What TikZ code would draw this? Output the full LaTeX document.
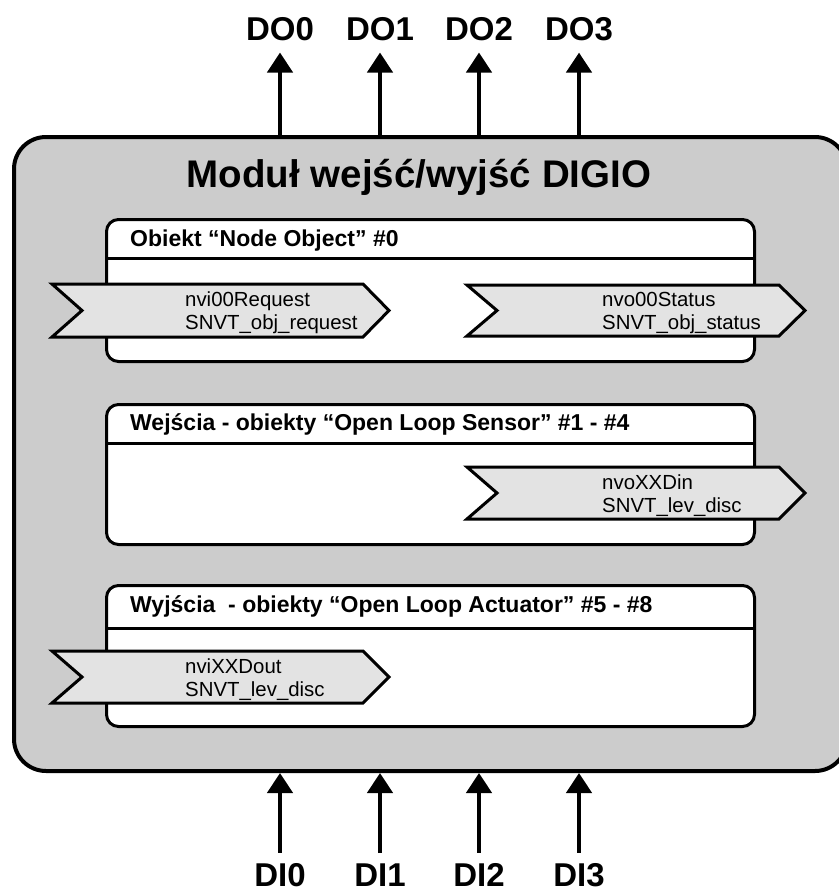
\documentclass[tikz,border=0pt]{standalone}
\usepackage{fontspec}
\setmainfont{Liberation Sans}
\usetikzlibrary{arrows.meta}

\definecolor{modulegray}{HTML}{CCCCCC}
\definecolor{chevrongray}{HTML}{E3E3E3}

\begin{document}
\begin{tikzpicture}[x=1pt, y=-1pt,
  modulebox/.style={draw, line width=4pt, fill=modulegray, rounded corners=32pt, inner sep=0pt, anchor=north west},
  objbox/.style={draw, line width=3pt, fill=white, rounded corners=12pt, inner sep=0pt, anchor=north west, minimum width=648pt},
  objline/.style={line width=3pt},
  objhead/.style={anchor=base west, inner sep=0pt, font=\fontsize{23}{27}\selectfont\bfseries},
  chevron/.style={draw, line width=3pt, fill=chevrongray, line join=miter},
  nvtext/.style={anchor=base west, inner sep=0pt, align=left, font=\fontsize{20.4}{23}\selectfont},
  iolabel/.style={anchor=base, inner sep=0pt, font=\fontsize{33}{38}\selectfont\bfseries},
  ioarrow/.style={line width=4.5pt, -{Triangle[length=20pt,width=25pt]}}]

\useasboundingbox (0,0) rectangle (838,894);

% module frame
\node[modulebox, minimum width=833pt, minimum height=634pt] (module) at (12,135) {};
\node[anchor=base, inner sep=0pt, font=\fontsize{38.5}{44}\selectfont\bfseries] (title) at (419,187) {Moduł wejść/wyjść DIGIO};

% object boxes
\node[objbox, minimum height=142pt] (obj0) at (105,218) {};
\draw[objline] ([yshift=-40pt]obj0.north west) -- ([yshift=-40pt]obj0.north east);
\node[objhead] (head0) at (130,246) {Obiekt “Node Object” \#0};

\node[objbox, minimum height=140pt] (obj1) at (105,403) {};
\draw[objline] ([yshift=-40pt]obj1.north west) -- ([yshift=-40pt]obj1.north east);
\node[objhead] (head1) at (130,430) {Wejścia - obiekty “Open Loop Sensor” \#1 - \#4};

\node[objbox, minimum height=141pt] (obj2) at (105,584) {};
\draw[objline] ([yshift=-44pt]obj2.north west) -- ([yshift=-44pt]obj2.north east);
\node[objhead] (head2) at (130,612) {Wyjścia\ \ - obiekty “Open Loop Actuator” \#5 - \#8};

% network variables (base = last line)
\draw[chevron] (52,284) -- (363,284) -- (389,310.5) -- (363,337) -- (52,337) -- (82,310.5) -- cycle;
\node[nvtext] (nvi00) at (185,329) {nvi00Request\\SNVT\_obj\_request};

\draw[chevron] (467,285) -- (779,285) -- (805,310.5) -- (779,336) -- (467,336) -- (497,310.5) -- cycle;
\node[nvtext] (nvo00) at (602,329) {nvo00Status\\SNVT\_obj\_status};

\draw[chevron] (467,467) -- (779,467) -- (805,493) -- (779,519) -- (467,519) -- (497,493) -- cycle;
\node[nvtext] (nvoxx) at (602,512) {nvoXXDin\\SNVT\_lev\_disc};

\draw[chevron] (52,651) -- (363,651) -- (389,677) -- (363,703) -- (52,703) -- (82,677) -- cycle;
\node[nvtext] (nvixx) at (185,696) {nviXXDout\\SNVT\_lev\_disc};

% digital outputs
\node[iolabel] (do0) at (280,40) {DO0};
\node[iolabel] (do1) at (380,40) {DO1};
\node[iolabel] (do2) at (479,40) {DO2};
\node[iolabel] (do3) at (579,40) {DO3};
\foreach \n in {do0,do1,do2,do3}
  \draw[ioarrow] (module.north -| \n.south) -- ([yshift=-12pt]\n.south);

% digital inputs
\node[iolabel] (di0) at (280,886) {DI0};
\node[iolabel] (di1) at (380,886) {DI1};
\node[iolabel] (di2) at (479,886) {DI2};
\node[iolabel] (di3) at (579,886) {DI3};
\foreach \n in {di0,di1,di2,di3}
  \draw[ioarrow] ([yshift=10pt]\n.north) -- (module.south -| \n.north);

\end{tikzpicture}
\end{document}
